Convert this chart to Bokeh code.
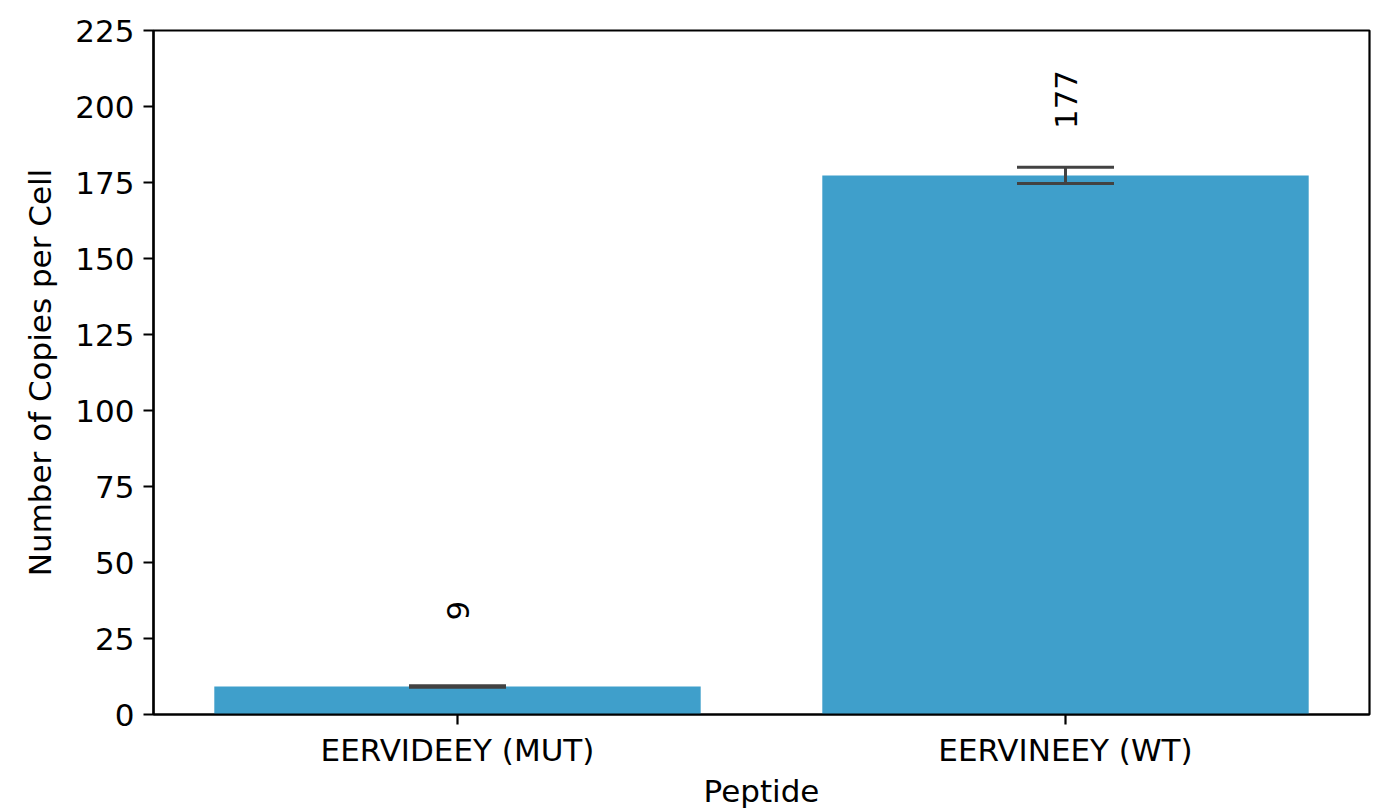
from bokeh.plotting import figure
from bokeh.models import Range1d, FixedTicker, ColumnDataSource, Whisker
from bokeh.core.properties import value
from bokeh.embed import file_html
from bokeh.resources import INLINE
import math

# Peptide copy numbers per cell (mean with confidence interval)
peptides = ["EERVIDEEY (MUT)", "EERVINEEY (WT)"]
copies = [9.2, 177.3]
ci_low = [8.95, 174.7]
ci_high = [9.45, 180.0]
y_ticks = [0, 25, 50, 75, 100, 125, 150, 175, 200, 225]

FONT = "DejaVu Sans"
FONT_SIZE = "31px"
BAR_COLOR = "#3f9fcb"
ERR_COLOR = "#424242"

xs = list(range(len(peptides)))
src = ColumnDataSource(dict(
    x=xs,
    top=copies,
    lower=ci_low,
    upper=ci_high,
    label_y=[v + 25 for v in copies],
    label=[f"{v:.0f}" for v in copies],
))

p = figure(
    width=1391, height=811,
    x_range=Range1d(-0.5, len(peptides) - 0.5),
    y_range=Range1d(0, 225),
    output_backend="svg", toolbar_location=None,
    min_border_left=153, min_border_right=22,
    min_border_top=30, min_border_bottom=97,
)
p.xgrid.visible = False
p.ygrid.visible = False
p.background_fill_color = "white"
p.border_fill_color = "white"
p.outline_line_color = "black"
p.outline_line_width = 2.2

p.vbar(x="x", top="top", bottom=0, width=0.8, source=src,
       fill_color=BAR_COLOR, line_color=None)

whisker = Whisker(base="x", lower="lower", upper="upper", source=src,
                  line_color=ERR_COLOR, line_width=3, level="overlay")
for head in (whisker.upper_head, whisker.lower_head):
    head.size = 97
    head.line_color = ERR_COLOR
    head.line_width = 3
p.add_layout(whisker)

p.text(x="x", y="label_y", text="label", source=src, angle=math.pi / 2,
       text_align="center", text_baseline="middle",
       text_font=value(FONT), text_font_size=FONT_SIZE, text_color="black")

for ax in (p.xaxis[0], p.yaxis[0]):
    ax.axis_line_width = 2.2
    ax.axis_line_color = "black"
    ax.major_tick_line_width = 2.2
    ax.major_tick_line_color = "black"
    ax.major_tick_out = 10
    ax.major_tick_in = 0
    ax.minor_tick_line_color = None
    ax.major_label_text_font = FONT
    ax.major_label_text_font_size = FONT_SIZE
    ax.major_label_text_color = "black"
    ax.axis_label_text_font = FONT
    ax.axis_label_text_font_size = FONT_SIZE
    ax.axis_label_text_font_style = "normal"
    ax.axis_label_text_color = "black"
    ax.major_label_standoff = 9

p.xaxis.ticker = FixedTicker(ticks=xs)
p.xaxis.major_label_overrides = {i: name for i, name in enumerate(peptides)}
p.xaxis.major_label_standoff = 7
p.xaxis.axis_label = "Peptide"
p.xaxis.axis_label_standoff = 2

p.yaxis.ticker = FixedTicker(ticks=y_ticks)
p.yaxis.axis_label = "Number of Copies per Cell"
p.yaxis.axis_label_standoff = 14

open("out.html", "w").write(file_html(p, INLINE))
